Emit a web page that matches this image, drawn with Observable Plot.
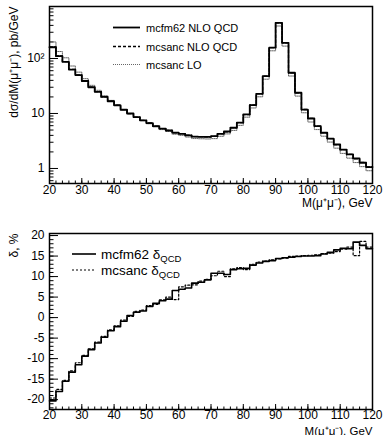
<!DOCTYPE html>
<html><head><meta charset="utf-8">
<script src="https://cdn.jsdelivr.net/npm/d3@7"></script>
<script src="https://cdn.jsdelivr.net/npm/@observablehq/plot@0.6"></script>
<style>
body{margin:0;background:#fff;}
#wrap{position:relative;width:383px;height:435px;overflow:hidden;font-family:"Liberation Sans",Arial,Helvetica,sans-serif;}
#wrap > svg{position:absolute;left:0;}
</style></head><body><div id="wrap"></div>
<script>
const FONT = '"Liberation Sans",Arial,Helvetica,sans-serif';
// bin lower edges, 2 GeV bins from 20 to 120 GeV
const binLow = d3.range(20, 120, 2);
const xMax = 120;

// top panel: dsigma/dM, pb/GeV
const mcfmNLO = [160,110,87,63,50,39,30,24.8,20,16.7,14.1,11.7,10,8.6,7.5,6.7,5.9,5.3,4.9,4.5,4.27,4.0,3.8,3.77,3.75,3.87,4.27,4.7,5.5,6.8,9.6,14.2,22.8,47.7,157,446,193,55,23.8,11.8,8.1,5.9,4.46,3.5,2.73,2.2,1.8,1.52,1.27,1.06];
const mcsancNLO = [162,111,88,63.5,50.5,39.2,30.2,25,20.1,16.8,14.2,11.75,9.98,8.62,7.52,6.72,5.88,5.32,4.93,4.43,4.32,4.04,3.79,3.8,3.77,3.85,4.32,4.65,5.52,6.83,9.56,14.25,22.9,47.8,157.5,445,192.5,55.1,23.8,11.82,8.12,5.91,4.47,3.49,2.72,2.2,1.81,1.49,1.29,1.07];
const mcsancLO = [200,134,103,73,56.5,43,32.5,26.4,21,17.3,14.4,11.8,9.95,8.5,7.4,6.5,5.7,5.1,4.7,4.2,4.0,3.73,3.5,3.47,3.44,3.49,3.85,4.25,4.92,6.08,8.57,12.6,20.1,42,138,390,168,48,20.7,10.3,7.0,5.1,3.86,3.02,2.34,1.88,1.54,1.28,1.08,0.91];

// bottom panel: delta_QCD, %
const mcfmDelta = [-20.3,-18.0,-15.5,-13.3,-11.5,-9.4,-7.8,-6.2,-4.8,-3.2,-2.2,-0.9,0.5,1.3,1.6,2.7,3.5,4.1,4.5,6.6,6.9,7.2,8.4,8.6,9.2,10.8,10.8,10.5,11.7,11.9,12.0,12.8,13.3,13.7,13.9,14.4,14.6,14.7,14.9,15.0,15.0,15.1,15.5,15.9,16.5,16.9,16.8,18.4,17.6,16.8];
const mcsancDelta = [-19.6,-17.5,-15.3,-13.0,-11.0,-9.2,-7.6,-6.0,-4.6,-3.0,-2.0,-0.6,0.3,1.5,1.8,2.9,3.2,4.3,5.0,4.4,7.5,7.9,8.0,8.9,9.3,10.2,11.3,10.0,11.9,12.2,11.7,13.0,13.5,13.8,14.1,14.3,14.5,14.9,15.0,15.1,15.2,15.3,15.6,15.7,16.1,16.7,17.2,15.1,18.6,17.2];

// ticks and labels
const xMajor = [20,30,40,50,60,70,80,90,100,110,120];
const xMinor = d3.range(20, 121, 2);
const yTopMajor = [1,10,100];
const yTopMinor = [0.6,0.7,0.8,0.9,2,3,4,5,6,7,8,9,20,30,40,50,60,70,80,90,200,300,400,500,600,700,800];
const yBotMajor = [-20,-15,-10,-5,0,5,10,15,20];
const yBotMinor = d3.range(-22, 21, 1);
const xTitle = "M(\u03bc\u207a\u03bc\u207b), GeV";
const yTitleTop = "d\u03c3/dM(\u03bc\u207a\u03bc\u207b), pb/GeV";
const yTitleBot = "\u03b4, %";
const legendTop = ["mcfm62 NLO QCD", "mcsanc NLO QCD", "mcsanc LO"];
const legendBot = ["mcfm62 \u03b4", "mcsanc \u03b4"];

function steps(vals){
  const pts = binLow.map((x,i)=>({x, y: vals[i]}));
  pts.push({x: xMax, y: vals[vals.length-1]});
  return pts;
}

const frameW = 323;
const wrap = document.getElementById("wrap");

function axesMarks(yMajor, yMinor, frameH){
  return [
    Plot.tickY(yMinor, {y: d=>d, insetRight: frameW-4.5, stroke:"black", strokeWidth:1}),
    Plot.tickY(yMajor, {y: d=>d, insetRight: frameW-9, stroke:"black", strokeWidth:1}),
    Plot.tickX(xMinor, {x: d=>d, insetTop: frameH-2.5, stroke:"black", strokeWidth:1}),
    Plot.tickX(xMajor, {x: d=>d, insetTop: frameH-5, stroke:"black", strokeWidth:1})
  ];
}

const p1 = Plot.plot({
  width:383, height:210, marginLeft:49, marginRight:11, marginTop:6, marginBottom:27,
  style:{fontFamily:FONT, fontSize:"12px", background:"transparent", color:"black", overflow:"visible"},
  x:{domain:[20,120], ticks:xMajor, tickSize:0, tickPadding:2, tickFormat:d=>String(d), label:null},
  y:{type:"log", domain:[0.533,882], ticks:yTopMajor, tickSize:0, tickPadding:5, tickFormat:d=> d===100 ? "10\u00b2" : String(d), label:null},
  marks:[
    ...axesMarks(yTopMajor, yTopMinor, 177),
    Plot.line(steps(mcsancLO), {x:"x", y:"y", curve:"step-after", stroke:"#666", strokeWidth:1, strokeDasharray:"1,1"}),
    Plot.line(steps(mcsancNLO), {x:"x", y:"y", curve:"step-after", stroke:"black", strokeWidth:1.3, strokeDasharray:"3,2"}),
    Plot.line(steps(mcfmNLO), {x:"x", y:"y", curve:"step-after", stroke:"black", strokeWidth:1.8}),
    Plot.frame({stroke:"black", strokeWidth:1.5}),
    Plot.text([xTitle], {frameAnchor:"bottom-right", dy:23, textAnchor:"end", fontSize:12}),
    Plot.text([yTitleTop], {frameAnchor:"top-left", dx:-35, rotate:-90, textAnchor:"end", lineAnchor:"middle", fontSize:12})
  ]
});
p1.style.top = "0px";
wrap.appendChild(p1);

const p2 = Plot.plot({
  width:383, height:225, marginLeft:49, marginRight:11, marginTop:23, marginBottom:26,
  style:{fontFamily:FONT, fontSize:"12px", background:"transparent", color:"black", overflow:"visible"},
  x:{domain:[20,120], ticks:xMajor, tickSize:0, tickPadding:1, tickFormat:d=>String(d), label:null},
  y:{domain:[-22.4,20.5], ticks:yBotMajor, tickSize:0, tickPadding:5, tickFormat:d=>String(d), label:null},
  marks:[
    ...axesMarks(yBotMajor, yBotMinor, 176),
    Plot.line(steps(mcsancDelta), {x:"x", y:"y", curve:"step-after", stroke:"black", strokeWidth:1.2, strokeDasharray:"2,2"}),
    Plot.line(steps(mcfmDelta), {x:"x", y:"y", curve:"step-after", stroke:"black", strokeWidth:1.6}),
    Plot.frame({stroke:"black", strokeWidth:1.5}),
    Plot.text([xTitle], {frameAnchor:"bottom-right", dy:25, textAnchor:"end", fontSize:11.5}),
    Plot.text([yTitleBot], {frameAnchor:"top-left", dx:-35, rotate:-90, textAnchor:"end", lineAnchor:"middle", fontSize:12})
  ]
});
p2.style.top = "210px";
wrap.appendChild(p2);

// legends
const lg = d3.select(wrap).append("svg").attr("width",383).attr("height",435).style("top","0px")
  .style("font-family", FONT);
const topStyles = [
  {dash:null, w:1.8, c:"black"},
  {dash:"3,2", w:1.3, c:"black"},
  {dash:"1,1", w:1, c:"#666"}
];
const topRows = [27.5, 46.5, 64.5];
legendTop.forEach((t,i)=>{
  lg.append("line").attr("x1",113).attr("x2",140).attr("y1",topRows[i]).attr("y2",topRows[i])
    .attr("stroke",topStyles[i].c).attr("stroke-width",topStyles[i].w).attr("stroke-dasharray",topStyles[i].dash);
  lg.append("text").attr("x",146).attr("y",topRows[i]+4).attr("font-size",11).text(t);
});
const botRows = [254, 270];
const botStyles = [{dash:null,w:1.6},{dash:"2,2",w:1.2}];
legendBot.forEach((t,i)=>{
  lg.append("line").attr("x1",72).attr("x2",96).attr("y1",botRows[i]).attr("y2",botRows[i])
    .attr("stroke","black").attr("stroke-width",botStyles[i].w).attr("stroke-dasharray",botStyles[i].dash);
  const tx = lg.append("text").attr("x",101).attr("y",botRows[i]+5).attr("font-size",13.5);
  tx.append("tspan").text(t);
  tx.append("tspan").attr("dy",3).attr("font-size",9.5).text("QCD");
});
</script></body></html>
